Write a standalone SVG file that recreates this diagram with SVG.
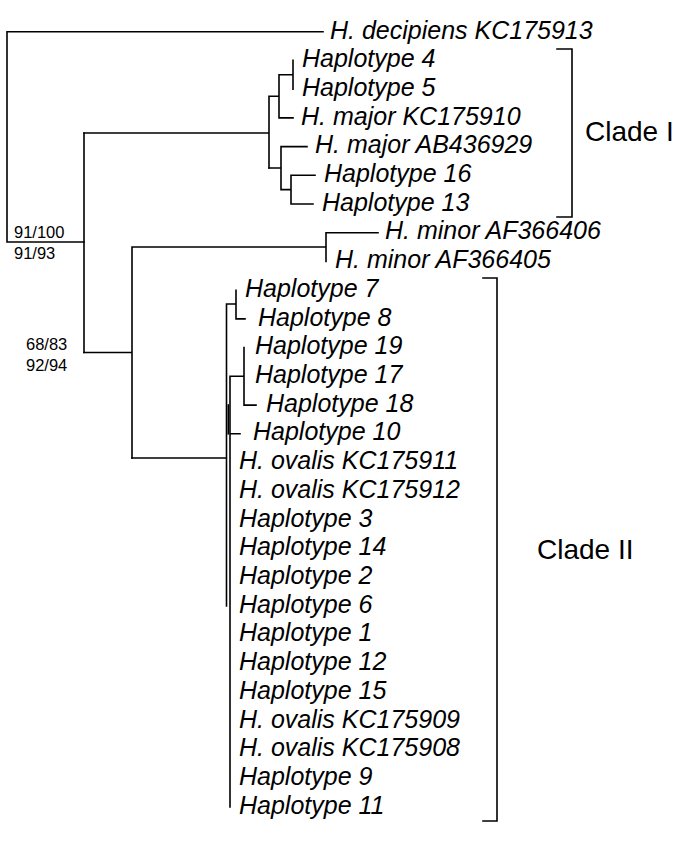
<svg xmlns="http://www.w3.org/2000/svg" width="685" height="844" viewBox="0 0 685 844">
<style>
.br{stroke:#000;stroke-width:1.6;fill:none;stroke-linecap:square}
.lf{font-family:"Liberation Sans",Arial,sans-serif;font-style:italic;font-size:25px;fill:#000}
.bs{font-family:"Liberation Sans",Arial,sans-serif;font-size:16.5px;fill:#000}
.cl{font-family:"Liberation Sans",Arial,sans-serif;font-size:28px;fill:#000}
</style>
<rect width="685" height="844" fill="#fff"/>
<g id="connectors" class="br">
<path d="M7,31.7H323M7,31.7V242H84"/>
<path d="M84,133V352.5"/>
<path d="M84,133H269M269,96.3V168M269,96.3H279M279,74.8V117.9M279,74.8H293M293,60.4V89.1M279,117.9H293"/>
<path d="M269,168H281M281,146.6V189.6M281,146.6H307M281,189.6H291M291,175.3V204M291,175.3H315M291,204H313"/>
<path d="M84,352.5H132M132,247V458M132,247H326M326,232.7V261.5M326,232.7H378"/>
<path d="M132,458H226.5M226.5,304V606M226.5,304H236M236,290.2V318.9M236,318.9H245"/>
<path d="M230,376.3V807M230,376.3H244M244,347.6V405.1M244,405.1H256M230,433.8H240"/>
<path d="M228.3,405V433.8"/>
</g>
<g id="brackets" class="br">
<path d="M557,49H572V217H557"/>
<path d="M483,278H497V821H483"/>
</g>
<g id="bootstrap">
<text class="bs" x="14" y="238">91/100</text>
<text class="bs" x="14" y="259">91/93</text>
<text class="bs" x="26" y="350">68/83</text>
<text class="bs" x="26" y="371">92/94</text>
</g>
<g id="clades">
<text class="cl" x="585" y="141">Clade I</text>
<text class="cl" x="537" y="559">Clade II</text>
</g>
<g id="leaves">
<text class="lf" x="330" y="38.5">H. decipiens KC175913</text>
<text class="lf" x="302" y="67">Haplotype 4</text>
<text class="lf" x="302" y="95.7">Haplotype 5</text>
<text class="lf" x="301" y="124.5">H. major KC175910</text>
<text class="lf" x="315" y="153.2">H. major AB436929</text>
<text class="lf" x="324" y="181.9">Haplotype 16</text>
<text class="lf" x="322" y="210.6">Haplotype 13</text>
<text class="lf" x="385" y="239.3">H. minor AF366406</text>
<text class="lf" x="335" y="268.1">H. minor AF366405</text>
<text class="lf" x="245" y="296.8">Haplotype 7</text>
<text class="lf" x="258" y="325.5">Haplotype 8</text>
<text class="lf" x="255" y="354.2">Haplotype 19</text>
<text class="lf" x="255" y="382.9">Haplotype 17</text>
<text class="lf" x="266" y="411.7">Haplotype 18</text>
<text class="lf" x="253" y="440.4">Haplotype 10</text>
<text class="lf" x="239" y="469.1">H. ovalis KC175911</text>
<text class="lf" x="239" y="497.8">H. ovalis KC175912</text>
<text class="lf" x="239" y="526.5">Haplotype 3</text>
<text class="lf" x="239" y="555.3">Haplotype 14</text>
<text class="lf" x="239" y="584">Haplotype 2</text>
<text class="lf" x="239" y="612.7">Haplotype 6</text>
<text class="lf" x="239" y="641.4">Haplotype 1</text>
<text class="lf" x="239" y="670.1">Haplotype 12</text>
<text class="lf" x="239" y="698.9">Haplotype 15</text>
<text class="lf" x="239" y="727.6">H. ovalis KC175909</text>
<text class="lf" x="239" y="756.3">H. ovalis KC175908</text>
<text class="lf" x="239" y="785">Haplotype 9</text>
<text class="lf" x="239" y="813.7">Haplotype 11</text>
</g>
</svg>
